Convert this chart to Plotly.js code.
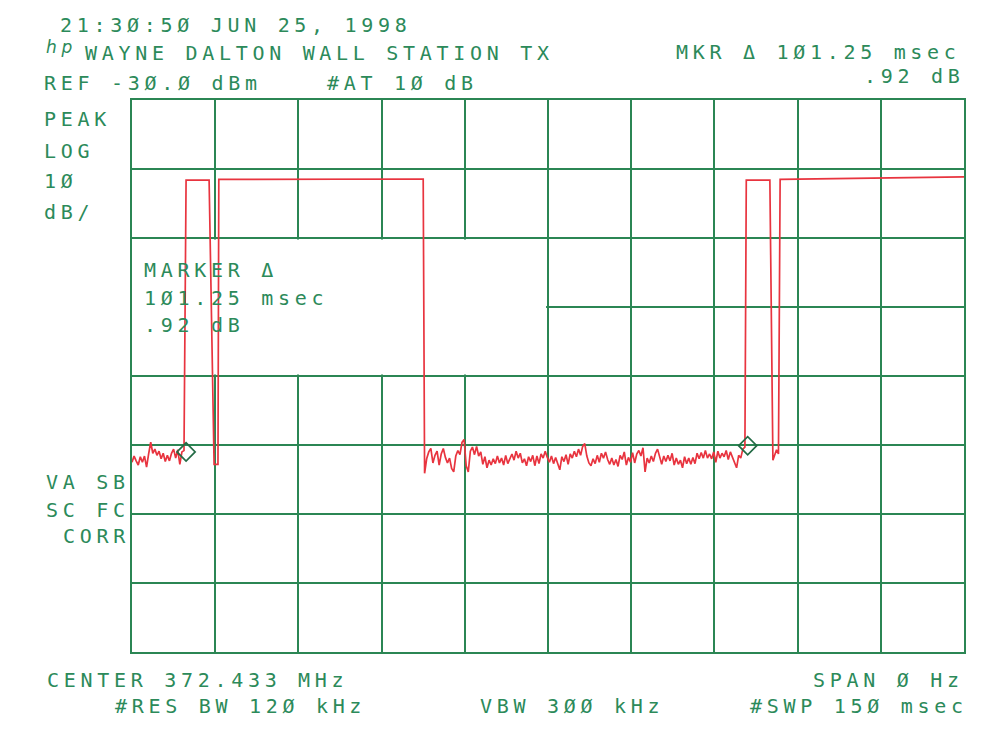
<!DOCTYPE html>
<html>
<head>
<meta charset="utf-8">
<script src="https://cdn.plot.ly/plotly-3.0.1.min.js"></script>
<style>
  html, body { margin: 0; padding: 0; background: #fff; }
  .annotation-text { letter-spacing: 4.7px; }
</style>
</head>
<body>
<div id="plot" style="width:984px;height:737px;"></div>
<script>
// ---- Data (time in msec, level in dBm) ----
const SWEEP_MS = 150;
const SWEEP_POINTS = 401;
const SAMPLE_MS = SWEEP_MS / (SWEEP_POINTS - 1);

// noise floor before first burst (starts at 0 ms)
const noiseA_start = 0;
const noiseA = [-82.5,-81.6,-82.3,-82.9,-81.7,-82.5,-81.6,-83.2,-81.3,-79.6,-81.2,-80.6,-81.5,
  -80.9,-82.0,-81.2,-82.4,-81.5,-82.3,-81.2,-80.6,-81.9,-80.7,-82.8,-81.0,-80.8];

// first burst (with short dropout)
const burst1_t = [9.75, 13.9, 14.8, 15.5, 15.65, 52.5];
const burst1_l = [-41.6, -41.6, -82.8, -82.8, -41.5, -41.45];

// noise floor between bursts
const noiseB_start = 52.75;
const noiseB = [-84.1,-82.0,-81.0,-80.5,-82.6,-81.5,-80.9,-82.9,-81.3,-80.5,-81.8,-82.6,-81.9,-83.4,
  -83.9,-81.6,-80.8,-81.4,-79.6,-79.2,-83.0,-83.9,-80.9,-80.3,-81.4,-80.2,-81.6,-81.0,-82.8,-81.7,
  -83.3,-82.2,-82.9,-82.0,-82.7,-81.6,-82.6,-81.9,-82.9,-81.5,-82.7,-81.9,-81.3,-82.2,-80.9,-81.9,
  -81.2,-82.6,-82.0,-83.0,-81.7,-82.4,-81.5,-83.0,-81.6,-82.7,-81.3,-81.9,-80.9,-81.8,-82.5,-81.6,
  -82.7,-81.8,-82.6,-83.6,-81.7,-82.4,-81.4,-82.8,-81.3,-81.9,-80.9,-81.7,-80.6,-81.5,-80.2,-79.8,
  -81.6,-82.6,-83.0,-82.0,-82.7,-81.5,-82.5,-81.2,-81.9,-81.0,-82.1,-82.8,-81.9,-82.9,-82.1,-83.1,
  -81.5,-82.1,-81.0,-82.9,-81.8,-82.5,-81.1,-82.6,-81.3,-80.8,-81.6,-80.4,-83.9,-81.9,-82.6,-81.6,
  -82.4,-81.2,-80.6,-81.9,-82.8,-81.6,-82.4,-81.5,-82.3,-81.2,-82.9,-81.9,-82.8,-82.2,-83.3,-81.7,
  -82.7,-81.9,-82.8,-81.8,-82.7,-81.2,-82.0,-81.1,-81.9,-80.8,-81.9,-81.3,-82.0,-81.0,-82.5,-80.9,
  -81.9,-81.2,-81.7,-80.8,-82.1,-81.0,-81.8,-82.7,-83.3,-81.5,-81.9,-80.6,-80.3];

// second burst (with short dropout) and continuing carrier
const burst2_t = [110.75, 115.0, 115.55, 116.2, 116.55, 116.85, 150.0];
const burst2_l = [-41.6, -41.6, -82.2, -80.7, -81.3, -41.5, -41.15];

// delta markers
const marker_t = [9.75, 111.0];
const marker_l = [-81.0, -80.1];

// ---- Build trace from the data arrays ----
const traceT = [], traceL = [];
noiseA.forEach((v, i) => { traceT.push(noiseA_start + i * SAMPLE_MS); traceL.push(v); });
burst1_t.forEach((t, i) => { traceT.push(t); traceL.push(burst1_l[i]); });
noiseB.forEach((v, i) => { traceT.push(noiseB_start + i * SAMPLE_MS); traceL.push(v); });
burst2_t.forEach((t, i) => { traceT.push(t); traceL.push(burst2_l[i]); });

const GREEN = '#2b8654';
const TEXT = '#2c8a5a';
const RED = '#e8343f';

const L = 132, R = 20, T = 100, B = 85, W = 984, H = 737;
const PW = W - L - R, PH = H - T - B;
function lab(text, xpx, ypx, size) {
  return {
    text: text, xref: 'paper', yref: 'paper',
    x: (xpx - L) / PW, y: (H - B - ypx) / PH,
    xanchor: 'left', yanchor: 'middle', showarrow: false,
    borderpad: 0, borderwidth: 0,
    font: { family: 'DejaVu Sans Mono', size: size || 20, color: TEXT }
  };
}

const annotations = [
  lab('21:3Ø:5Ø JUN 25, 1998', 60, 25),
  Object.assign(lab('hp', 46, 47), { font: { family: 'DejaVu Sans', size: 17, color: TEXT, style: 'italic' } }),
  lab('WAYNE DALTON WALL STATION TX', 85, 53),
  lab('REF -3Ø.Ø dBm', 44, 83),
  lab('#AT 1Ø dB', 327, 83),
  lab('MKR Δ 1Ø1.25 msec', 676, 52),
  lab('.92 dB', 864, 76),
  lab('PEAK', 44, 119),
  lab('LOG', 44, 151),
  lab('1Ø', 44, 181),
  lab('dB/', 44, 212),
  lab('VA SB', 46, 482),
  lab('SC FC', 46, 510),
  lab('CORR', 63, 536),
  lab('MARKER Δ', 144, 270),
  lab('1Ø1.25 msec', 144, 298),
  lab('.92 dB', 144, 325),
  lab('CENTER 372.433 MHz', 47, 680),
  lab('SPAN Ø Hz', 813, 680),
  lab('#RES BW 12Ø kHz', 115, 706),
  lab('VBW 3ØØ kHz', 480, 706),
  lab('#SWP 15Ø msec', 750, 706)
];

const data = [
  { x: traceT, y: traceL, type: 'scatter', mode: 'lines',
    line: { color: RED, width: 1.7 }, hoverinfo: 'skip' },
  { x: marker_t, y: marker_l, type: 'scatter', mode: 'markers',
    marker: { symbol: 'diamond-open', size: 14, color: '#236b45', line: { width: 1.7, color: '#236b45' } },
    hoverinfo: 'skip' }
];

const axisCommon = {
  showticklabels: false, ticks: '', zeroline: false,
  showgrid: true, gridcolor: GREEN, gridwidth: 2,
  showline: true, mirror: true, linecolor: GREEN, linewidth: 2,
  fixedrange: true
};

const layout = {
  width: W, height: H,
  margin: { l: L, r: R, t: T, b: B, pad: 0 },
  paper_bgcolor: '#ffffff', plot_bgcolor: '#ffffff',
  showlegend: false,
  xaxis: Object.assign({ range: [0, 150], dtick: 15, tick0: 0 }, axisCommon),
  yaxis: Object.assign({ range: [-110, -30], dtick: 10, tick0: -30 }, axisCommon),
  shapes: [
    // marker readout box clears the graticule behind it
    { type: 'rect', xref: 'x', yref: 'y', x0: 0, x1: 74.65, y0: -69.8, y1: -50.2,
      layer: 'between', fillcolor: '#ffffff', line: { width: 0 } }
  ],
  annotations: annotations
};

Plotly.newPlot('plot', data, layout, { staticPlot: true, displayModeBar: false });
</script>
</body>
</html>
